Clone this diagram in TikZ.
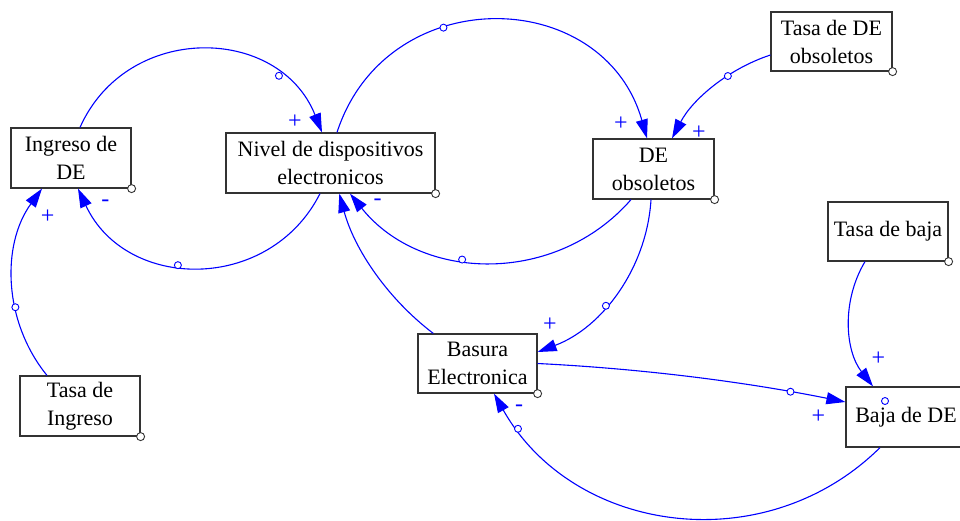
\documentclass[tikz,border=0pt]{standalone}
\usepackage{fontspec}
\setmainfont{Liberation Serif}
\usetikzlibrary{arrows.meta}
\begin{document}
\begin{tikzpicture}[x=1pt,y=-1pt,
  box/.style={draw=black!80, fill=white, line width=1.2pt, rectangle, inner sep=0pt, align=center, font=\fontsize{22}{28}\selectfont, text=black},
  conn/.style={draw=blue, line width=1.1pt, -{Triangle[length=19pt,width=12pt]}},
  mk/.style={circle, draw=blue, fill=white, line width=0.9pt, inner sep=0pt, minimum size=7pt},
  cdot/.style={circle, draw=black!80, fill=white, line width=0.9pt, inner sep=0pt, minimum size=8pt},
  sgn/.style={text=blue, inner sep=0pt, font=\fontsize{24}{24}\selectfont}]

\useasboundingbox (0,0) rectangle (960,520);

% variables
\node[box, minimum width=120pt, minimum height=60pt] (ingreso) at (71,158) {Ingreso de\\DE};
\node[box, minimum width=209pt, minimum height=60pt] (nivel) at (330.5,163) {Nivel de dispositivos\\electronicos};
\node[box, minimum width=121pt, minimum height=60pt] (deobs) at (653.5,169) {DE\\obsoletos};
\node[box, minimum width=121pt, minimum height=59pt] (tasadeobs) at (831.5,41.5) {Tasa de DE\\obsoletos};
\node[box, minimum width=120pt, minimum height=59pt] (tasabaja) at (888,231.5) {Tasa de baja};
\node[box, minimum width=119pt, minimum height=59pt] (basura) at (477.5,363.5) {Basura\\Electronica};
\node[box, minimum width=120pt, minimum height=60pt] (baja) at (906,417) {Baja de DE};
\node[box, minimum width=120pt, minimum height=60pt] (tasaing) at (80,406) {Tasa de\\Ingreso};

\foreach \n in {ingreso,nivel,deobs,tasadeobs,tasabaja,basura,tasaing}
  \node[cdot] (c\n) at (\n.south east) {};

% connectors
\draw[conn] ([xshift=-10.5pt]nivel.south) .. controls (269.6,293.2) and (125.9,291.4) .. ([xshift=7pt]ingreso.south) node[mk,pos=0.57] (m1) {};
\draw[conn] ([xshift=9pt]ingreso.north) .. controls (127.1,21.8) and (279.2,25.0) .. ([xshift=-8.5pt]nivel.north) node[mk,pos=0.775] (m2) {};
\draw[conn] ([xshift=6.5pt]nivel.north) .. controls (386.5,-19.4) and (603.5,-15.2) .. ([xshift=-6.5pt]deobs.north) node[mk,pos=0.37] (m3) {};
\draw[conn] ([xshift=-22.5pt]deobs.south) .. controls (556.2,285.4) and (421.2,282.5) .. ([xshift=19.5pt]nivel.south) node[mk,pos=0.587] (m4) {};
\draw[conn] ([yshift=-13.5pt]tasadeobs.west) .. controls (728.3,68.9) and (692.7,99.1) .. ([xshift=18.5pt]deobs.north) node[mk,pos=0.36] (m5) {};
\draw[conn] ([xshift=-2.5pt]deobs.south) .. controls (646.8,267.5) and (603.0,327.3) .. ([yshift=11.5pt]basura.east) node[mk,pos=0.59] (m6) {};
\draw[conn] ([xshift=-44.2pt]basura.north) .. controls (387.3,298.4) and (354.3,249.1) .. ([xshift=8.8pt]nivel.south);
\draw[conn] (basura.east) .. controls (640.8,368.6) and (744.0,381.6) .. ([yshift=15pt]baja.west) node[mk,pos=0.82] (m8) {};
\draw[conn] ([xshift=-23pt]tasabaja.south) .. controls (841.4,301.0) and (845.0,350.6) .. ([xshift=-33pt]baja.north);
\node[mk] (m9) at (885,401) {};
\draw[conn] ([xshift=-26pt]baja.south) .. controls (765.1,561.1) and (573.2,534.2) .. ([xshift=16.5pt]basura.south) node[mk,pos=0.91] (m10) {};
\draw[conn] ([xshift=-33pt]tasaing.north) .. controls (3.2,321.6) and (1.2,244.6) .. ([xshift=-29pt]ingreso.south) node[mk,pos=0.376] (m11) {};

% polarity signs
\node[sgn] (s1) at (105.3,203.7) {-};
\node[sgn] (s2) at (295,121.7) {+};
\node[sgn] (s3) at (621,123.3) {+};
\node[sgn] (s4) at (377.5,202.5) {-};
\node[sgn] (s5) at (699,132.7) {+};
\node[sgn] (s6) at (550,325) {+};
\node[sgn] (s8) at (818.5,416.7) {+};
\node[sgn] (s9) at (878.5,359) {+};
\node[sgn] (s10) at (519,408.7) {-};
\node[sgn] (s11) at (47.7,216.7) {+};
\end{tikzpicture}
\end{document}
